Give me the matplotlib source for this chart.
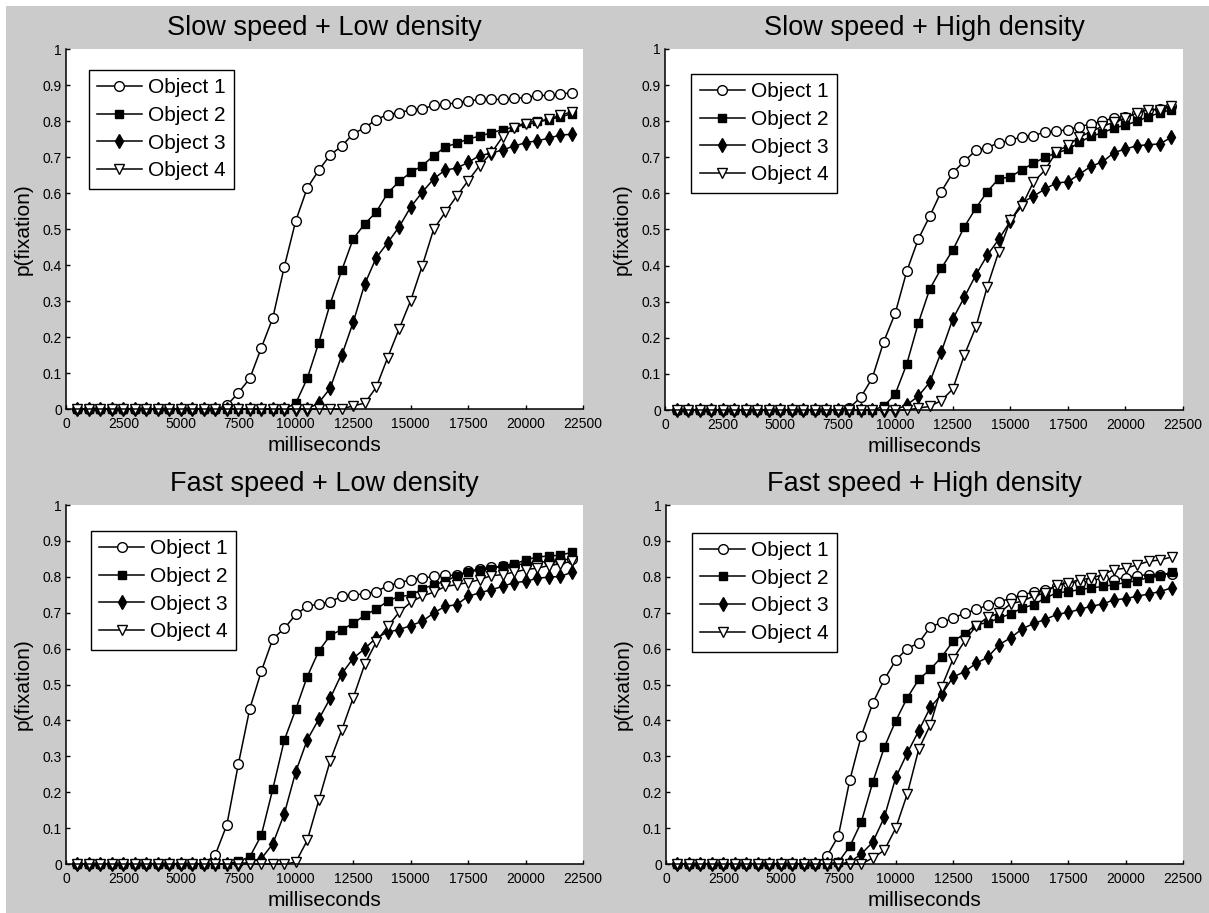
import matplotlib
matplotlib.use("Agg")
import matplotlib.pyplot as plt
from matplotlib.patches import Rectangle

plt.rcParams['font.family'] = ['Liberation Sans', 'DejaVu Sans']

######################## data ############################
# time points in ms (500 .. 22000)
ms = [500, 1000, 1500, 2000, 2500, 3000, 3500, 4000, 4500, 5000, 5500,
      6000, 6500, 7000, 7500, 8000, 8500, 9000, 9500, 10000, 10500, 11000,
      11500, 12000, 12500, 13000, 13500, 14000, 14500, 15000, 15500, 16000,
      16500, 17000, 17500, 18000, 18500, 19000, 19500, 20000, 20500, 21000,
      21500, 22000]

titles = ['Slow speed + Low density', 'Slow speed + High density',
          'Fast speed + Low density', 'Fast speed + High density']
labels = ['Object 1', 'Object 2', 'Object 3', 'Object 4']

# Slow speed + Low density
sl_obj1 = [0, 0, 0, 0, 0, 0, 0, 0, 0, 0, 0, 0, 0, 0.01, 0.045, 0.085, 0.17,
           0.253, 0.395, 0.523, 0.614, 0.663, 0.706, 0.73, 0.765, 0.781,
           0.804, 0.818, 0.823, 0.831, 0.833, 0.844, 0.846, 0.851, 0.855,
           0.86, 0.86, 0.86, 0.863, 0.865, 0.871, 0.871, 0.874, 0.879]
sl_obj2 = [0, 0, 0, 0, 0, 0, 0, 0, 0, 0, 0, 0, 0, 0, 0, 0, 0, 0, 0, 0.016,
           0.085, 0.184, 0.293, 0.385, 0.473, 0.514, 0.547, 0.6, 0.632,
           0.657, 0.676, 0.703, 0.728, 0.738, 0.75, 0.758, 0.767, 0.776,
           0.783, 0.795, 0.8, 0.804, 0.811, 0.82]
sl_obj3 = [0, 0, 0, 0, 0, 0, 0, 0, 0, 0, 0, 0, 0, 0, 0, 0, 0, 0, 0, 0, 0,
           0.017, 0.058, 0.149, 0.241, 0.347, 0.42, 0.462, 0.506, 0.561,
           0.602, 0.639, 0.664, 0.669, 0.685, 0.704, 0.71, 0.72, 0.73, 0.74,
           0.745, 0.752, 0.761, 0.763]
sl_obj4 = [0, 0, 0, 0, 0, 0, 0, 0, 0, 0, 0, 0, 0, 0, 0, 0, 0, 0, 0, 0, 0,
           0, 0, 0, 0.009, 0.016, 0.06, 0.143, 0.223, 0.301, 0.397, 0.499,
           0.546, 0.591, 0.634, 0.676, 0.71, 0.756, 0.781, 0.791, 0.795,
           0.805, 0.816, 0.825]

# Slow speed + High density
sh_obj1 = [0, 0, 0, 0, 0, 0, 0, 0, 0, 0, 0, 0, 0, 0, 0, 0.005, 0.035, 0.088,
           0.189, 0.268, 0.384, 0.473, 0.537, 0.605, 0.657, 0.689, 0.719,
           0.727, 0.74, 0.747, 0.757, 0.76, 0.77, 0.773, 0.776, 0.785, 0.792,
           0.8, 0.809, 0.813, 0.823, 0.831, 0.834, 0.841]
sh_obj2 = [0, 0, 0, 0, 0, 0, 0, 0, 0, 0, 0, 0, 0, 0, 0, 0, 0, 0, 0.01,
           0.044, 0.127, 0.24, 0.335, 0.392, 0.443, 0.507, 0.559, 0.605,
           0.641, 0.645, 0.666, 0.683, 0.7, 0.712, 0.722, 0.741, 0.758,
           0.768, 0.781, 0.789, 0.8, 0.813, 0.823, 0.832]
sh_obj3 = [0, 0, 0, 0, 0, 0, 0, 0, 0, 0, 0, 0, 0, 0, 0, 0, 0, 0, 0, 0,
           0.014, 0.038, 0.077, 0.161, 0.252, 0.312, 0.374, 0.429, 0.473,
           0.523, 0.574, 0.592, 0.612, 0.629, 0.632, 0.653, 0.675, 0.687,
           0.713, 0.723, 0.732, 0.735, 0.737, 0.756]
sh_obj4 = [0, 0, 0, 0, 0, 0, 0, 0, 0, 0, 0, 0, 0, 0, 0, 0, 0, 0, 0, 0, 0,
           0.005, 0.01, 0.026, 0.058, 0.152, 0.229, 0.342, 0.439, 0.525,
           0.565, 0.631, 0.664, 0.715, 0.733, 0.756, 0.771, 0.786, 0.797,
           0.808, 0.823, 0.832, 0.832, 0.841]

# Fast speed + Low density
fl_obj1 = [0, 0, 0, 0, 0, 0, 0, 0, 0, 0, 0, 0, 0.026, 0.109, 0.278, 0.433,
           0.537, 0.627, 0.656, 0.695, 0.718, 0.724, 0.73, 0.746, 0.75,
           0.752, 0.759, 0.775, 0.783, 0.792, 0.796, 0.801, 0.804, 0.804,
           0.815, 0.822, 0.826, 0.829, 0.833, 0.836, 0.84, 0.843, 0.846, 0.85]
fl_obj2 = [0, 0, 0, 0, 0, 0, 0, 0, 0, 0, 0, 0, 0, 0, 0.007, 0.02, 0.08,
           0.209, 0.345, 0.431, 0.522, 0.593, 0.637, 0.653, 0.67, 0.693,
           0.71, 0.732, 0.746, 0.748, 0.766, 0.778, 0.787, 0.803, 0.812,
           0.82, 0.822, 0.831, 0.835, 0.847, 0.855, 0.858, 0.86, 0.868]
fl_obj3 = [0, 0, 0, 0, 0, 0, 0, 0, 0, 0, 0, 0, 0, 0, 0, 0.005, 0.015, 0.056,
           0.14, 0.257, 0.346, 0.403, 0.462, 0.53, 0.573, 0.6, 0.63, 0.646,
           0.653, 0.664, 0.676, 0.699, 0.718, 0.722, 0.746, 0.755, 0.764,
           0.773, 0.784, 0.787, 0.796, 0.799, 0.801, 0.812]
fl_obj4 = [0, 0, 0, 0, 0, 0, 0, 0, 0, 0, 0, 0, 0, 0, 0, 0, 0, 0, 0, 0.005,
           0.066, 0.177, 0.288, 0.373, 0.463, 0.556, 0.618, 0.662, 0.701,
           0.729, 0.746, 0.757, 0.773, 0.778, 0.784, 0.792, 0.803, 0.806,
           0.813, 0.82, 0.824, 0.831, 0.836, 0.843]

# Fast speed + High density
fh_obj1 = [0, 0, 0, 0, 0, 0, 0, 0, 0, 0, 0, 0, 0, 0.022, 0.078, 0.234,
           0.357, 0.448, 0.514, 0.568, 0.6, 0.616, 0.66, 0.673, 0.685, 0.699,
           0.709, 0.721, 0.729, 0.741, 0.75, 0.757, 0.764, 0.773, 0.783,
           0.784, 0.789, 0.796, 0.792, 0.798, 0.803, 0.806, 0.806, 0.808]
fh_obj2 = [0, 0, 0, 0, 0, 0, 0, 0, 0, 0, 0, 0, 0, 0, 0.005, 0.049, 0.117,
           0.228, 0.325, 0.399, 0.463, 0.514, 0.542, 0.577, 0.621, 0.641,
           0.667, 0.672, 0.685, 0.697, 0.713, 0.722, 0.741, 0.755, 0.759,
           0.764, 0.769, 0.773, 0.778, 0.784, 0.789, 0.798, 0.803, 0.812]
fh_obj3 = [0, 0, 0, 0, 0, 0, 0, 0, 0, 0, 0, 0, 0, 0, 0, 0.005, 0.028, 0.061,
           0.13, 0.241, 0.309, 0.371, 0.436, 0.473, 0.521, 0.536, 0.559,
           0.576, 0.611, 0.63, 0.655, 0.67, 0.681, 0.695, 0.701, 0.709,
           0.718, 0.724, 0.736, 0.739, 0.746, 0.752, 0.759, 0.769]
fh_obj4 = [0, 0, 0, 0, 0, 0, 0, 0, 0, 0, 0, 0, 0, 0, 0, 0, 0, 0.017, 0.038,
           0.1, 0.195, 0.32, 0.387, 0.494, 0.572, 0.621, 0.664, 0.687, 0.699,
           0.725, 0.732, 0.746, 0.755, 0.778, 0.783, 0.792, 0.796, 0.806,
           0.82, 0.824, 0.833, 0.843, 0.847, 0.855]

panels = [[sl_obj1, sl_obj2, sl_obj3, sl_obj4],
          [sh_obj1, sh_obj2, sh_obj3, sh_obj4],
          [fl_obj1, fl_obj2, fl_obj3, fl_obj4],
          [fh_obj1, fh_obj2, fh_obj3, fh_obj4]]

xticks = [0, 2500, 5000, 7500, 10000, 12500, 15000, 17500, 20000, 22500]
yticks = [0, 0.1, 0.2, 0.3, 0.4, 0.5, 0.6, 0.7, 0.8, 0.9, 1]

######################## styles / layout ############################
W, H = 1209, 913
# axes boxes in pixels: left, top, right, bottom
boxes = [(66, 49, 583, 409), (665, 49, 1183, 410),
         (66, 505, 583, 864), (666, 505, 1183, 864)]
leg_anchor = [(0.044, 0.942), (0.051, 0.931), (0.048, 0.928), (0.05, 0.923)]

styles = [dict(marker='o', mfc='white', ms=7),
          dict(marker='s', mfc='black', ms=5.5),
          dict(marker='d', mfc='black', ms=7.5),
          dict(marker='v', mfc='white', ms=7)]

fig = plt.figure(figsize=(W / 100, H / 100), dpi=100, facecolor='white')
# grey background with thin white strip on top and left
fig.patches.append(Rectangle((6 / W, 0), 1, 1 - 6 / H, transform=fig.transFigure,
                             facecolor='#cbcbcb', edgecolor='none', zorder=-10))

for i, series in enumerate(panels):
    l, t, r, b = boxes[i]
    ax = fig.add_axes([l / W, 1 - b / H, (r - l) / W, (b - t) / H])
    ax.set_facecolor('white')
    for j, vals in enumerate(series):
        ax.plot(ms, vals, color='black', lw=1.1, mec='black', mew=1.0,
                clip_on=False, label=labels[j], **styles[j])
    ax.set_xlim(0, 22500)
    ax.set_ylim(0, 1)
    ax.set_xticks(xticks)
    ax.set_xticklabels([str(v) for v in xticks])
    ax.set_yticks(yticks)
    ax.set_yticklabels(['%g' % v for v in yticks])
    ax.tick_params(direction='in', length=3, width=1.0, labelsize=10,
                   colors='black', pad=6)
    ax.tick_params(axis='y', pad=3)
    for s in ['top', 'right']:
        ax.spines[s].set_visible(False)
    for s in ['left', 'bottom']:
        ax.spines[s].set_linewidth(1.1)
    ax.set_title(titles[i], fontsize=19.5, pad=10)
    ax.set_xlabel('milliseconds', fontsize=15, labelpad=3)
    ax.set_ylabel('p(fixation)', fontsize=15, labelpad=7)
    leg = ax.legend(loc='upper left', bbox_to_anchor=leg_anchor[i],
                    borderaxespad=0, fontsize=15, handlelength=2.15,
                    handletextpad=0.3, labelspacing=0.42, borderpad=0.4,
                    fancybox=False, framealpha=1, edgecolor='black')
    leg.get_frame().set_linewidth(1.0)

fig.savefig('out.png', dpi=100, facecolor=fig.get_facecolor())
